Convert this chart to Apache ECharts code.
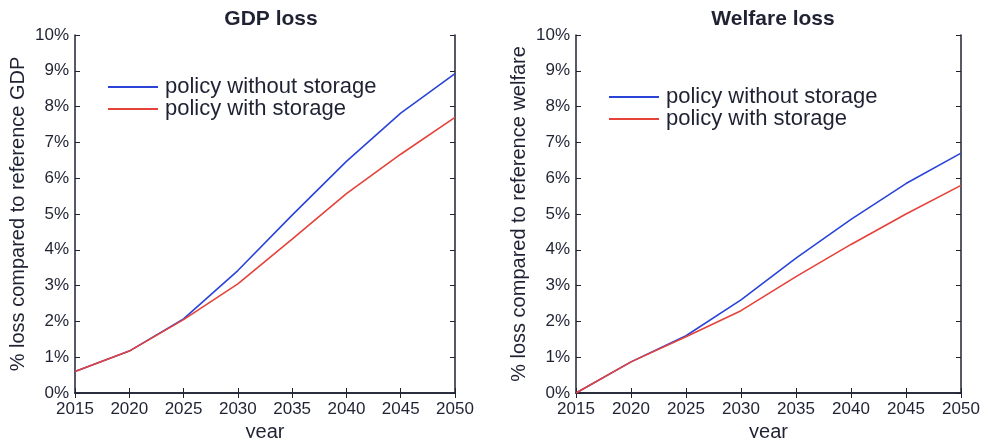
<!DOCTYPE html>
<html><head><meta charset="utf-8">
<script src="https://cdn.jsdelivr.net/npm/echarts@6/dist/echarts.min.js"></script>
<style>html,body{margin:0;padding:0;background:#fff}#c{width:982px;height:438px}</style>
</head><body><div id="c"></div>
<script>
const years = [2015, 2020, 2025, 2030, 2035, 2040, 2045, 2050];
const gdpWithout = [0.6, 1.17, 2.07, 3.42, 4.97, 6.47, 7.82, 8.92];
const gdpWith = [0.6, 1.17, 2.05, 3.05, 4.3, 5.57, 6.67, 7.7];
const welfareWithout = [0.0, 0.87, 1.6, 2.6, 3.77, 4.85, 5.85, 6.7];
const welfareWith = [0.0, 0.87, 1.57, 2.3, 3.25, 4.15, 5.0, 5.8];
const titles = ['GDP loss', 'Welfare loss'];
const yNames = ['% loss compared to reference GDP', '% loss compared to reference welfare'];
const seriesNames = ['policy without storage', 'policy with storage'];

const axisColor = '#1f2233';
const font = 'Liberation Sans, Arial, sans-serif';
const blue = '#2a44d8';
const red = '#e5423a';

const pair = (xs, ys) => xs.map((x, i) => [x, ys[i]]);
const grids = [
  {left: 75, top: 35, width: 380, height: 358, containLabel: false, outerBoundsMode: 'none'},
  {left: 576, top: 35, width: 385, height: 358, containLabel: false, outerBoundsMode: 'none'}
];
const xAxes = [], yAxes = [], series = [];
grids.forEach((g, gi) => {
  xAxes.push({
    type: 'value', gridIndex: gi, min: 2015, max: 2050, interval: 5,
    name: 'year', nameLocation: 'middle', nameGap: 24,
    nameTextStyle: {fontFamily: font, fontSize: 20, color: axisColor},
    axisLine: {show: true, lineStyle: {color: axisColor, width: 1.5}},
    axisTick: {show: true, inside: true, length: 5, lineStyle: {color: axisColor}},
    axisLabel: {fontFamily: font, fontSize: 17, color: axisColor, margin: 8, formatter: v => String(v)},
    splitLine: {show: false}
  });
  xAxes.push({
    type: 'value', gridIndex: gi, min: 2015, max: 2050, interval: 5, position: 'top',
    axisLine: {show: true, lineStyle: {color: axisColor, width: 1.5}},
    axisTick: {show: true, inside: true, length: 5, lineStyle: {color: axisColor}},
    axisLabel: {show: false}, splitLine: {show: false}
  });
  yAxes.push({
    type: 'value', gridIndex: gi, min: 0, max: 10, interval: 1,
    name: yNames[gi], nameLocation: 'middle', nameGap: 47,
    nameTextStyle: {fontFamily: font, fontSize: 20, color: axisColor},
    axisLine: {show: true, lineStyle: {color: axisColor, width: 1.5}},
    axisTick: {show: true, inside: true, length: 5, lineStyle: {color: axisColor}},
    axisLabel: {fontFamily: font, fontSize: 17, color: axisColor, margin: 6, formatter: v => v + '%'},
    splitLine: {show: false}
  });
  yAxes.push({
    type: 'value', gridIndex: gi, min: 0, max: 10, interval: 1, position: 'right',
    axisLine: {show: true, lineStyle: {color: axisColor, width: 1.5}},
    axisTick: {show: true, inside: true, length: 5, lineStyle: {color: axisColor}},
    axisLabel: {show: false}, splitLine: {show: false}
  });
});
const data = [[gdpWithout, gdpWith], [welfareWithout, welfareWith]];
data.forEach((d, gi) => {
  d.forEach((vals, si) => {
    series.push({
      type: 'line', name: seriesNames[si], xAxisIndex: gi * 2, yAxisIndex: gi * 2,
      data: pair(years, vals), showSymbol: false, symbol: 'none',
      lineStyle: {color: si === 0 ? blue : red, width: 1.6},
      itemStyle: {color: si === 0 ? blue : red},
      z: si === 0 ? 3 : 4
    });
  });
});
const legendCommon = {
  orient: 'vertical', icon: 'rect', itemWidth: 50, itemHeight: 2, itemGap: 0,
  textStyle: {fontFamily: font, fontSize: 22, lineHeight: 21, color: axisColor, padding: [0, 0, 0, 2]},
  data: seriesNames
};
const chart = echarts.init(document.getElementById('c'), null, {renderer: 'canvas'});
chart.setOption({
  animation: false,
  title: [
    {text: titles[0], left: 266, top: 4, textAlign: 'center', textStyle: {fontFamily: font, fontSize: 21, fontWeight: 'bold', color: axisColor}},
    {text: titles[1], left: 768, top: 4, textAlign: 'center', textStyle: {fontFamily: font, fontSize: 21, fontWeight: 'bold', color: axisColor}}
  ],
  grid: grids,
  xAxis: xAxes,
  yAxis: yAxes,
  legend: [
    Object.assign({left: 103, top: 71, padding: 5}, legendCommon),
    Object.assign({left: 604, top: 81, padding: 5}, legendCommon)
  ],
  series: series
});
</script></body></html>
